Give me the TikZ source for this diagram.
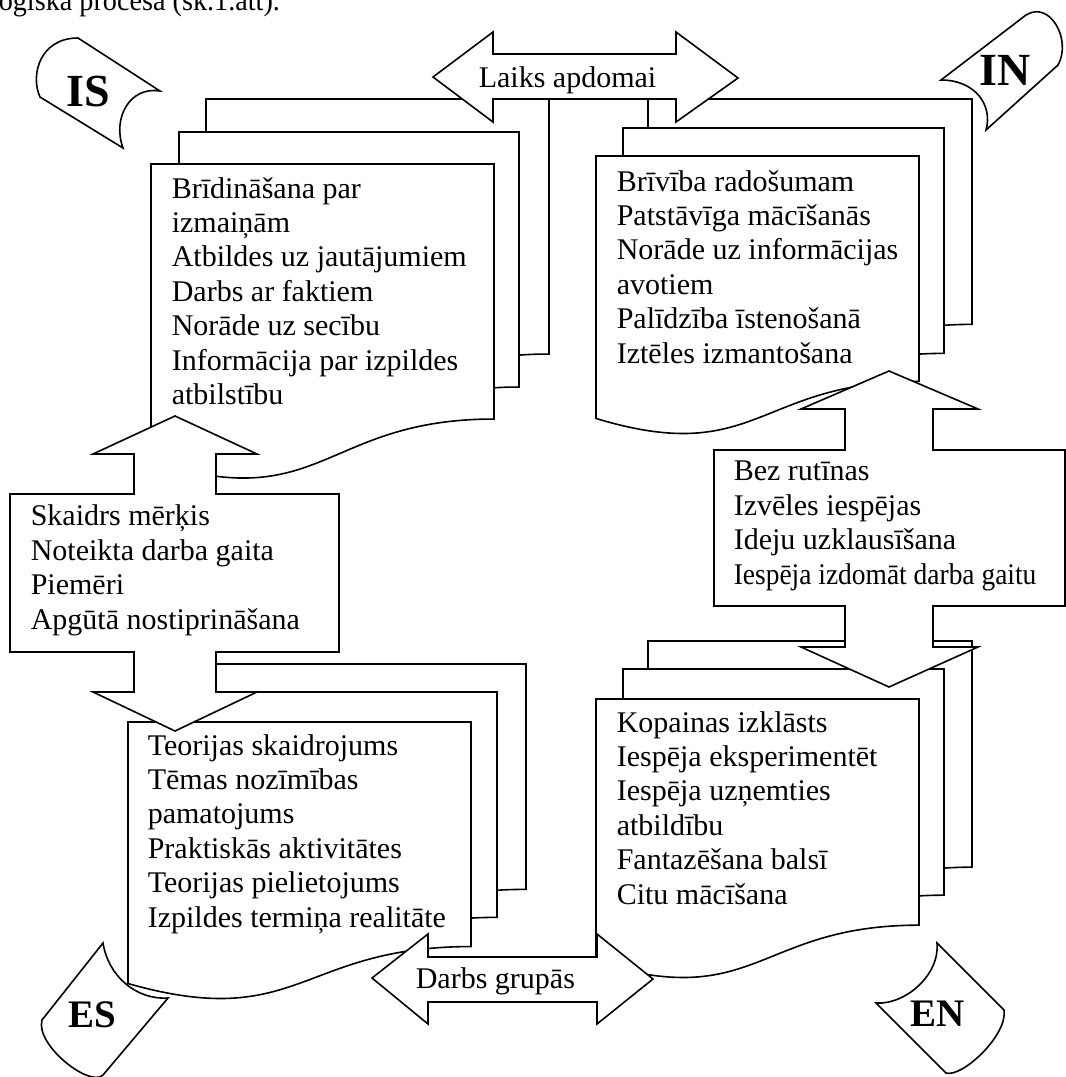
\documentclass[tikz,border=0pt]{standalone}
\usepackage{fontspec}
\setmainfont{Liberation Serif}
\newcommand{\mdoc}[4]{%
  \draw[shp] (#1,#2) -- ({#1+#3},#2) -- ({#1+#3},{#2+0.802*#4})
    .. controls ({#1+0.5*#3},{#2+0.802*#4}) and ({#1+0.5*#3},{#2+1.108*#4}) .. (#1,{#2+0.934*#4}) -- cycle;}
\begin{document}
\begin{tikzpicture}[x=1pt,y=-1pt,line width=1.6pt,line join=miter,
  shp/.style={draw=black,fill=white},
  tagshape/.style={draw=black},
  txt/.style={anchor=base west,inner sep=0pt,align=left,font=\fontsize{30}{34.4}\selectfont},
  bigtag/.style={inner sep=0pt,font=\fontsize{46}{46}\selectfont\bfseries},
  smalltag/.style={inner sep=0pt,font=\fontsize{39}{39}\selectfont\bfseries}]
\useasboundingbox (0,0) rectangle (1066,1077);
\clip (0,0) rectangle (1066,1077);
\fill[white] (0,0) rectangle (1066,1077);

% cropped header line (last-line baselines are used as anchors below)
\node[txt] (head) at (-2,10) {\scalebox{0.94}[1]{ogiska procesa (sk.1.att).}};

% IS group
\mdoc{206}{99}{343}{318}
\mdoc{179}{132}{340}{318}
\mdoc{151}{164}{343}{318}
\node[txt] (istext) at (171,404.4) {Brīdināšana par\\izmaiņām\\Atbildes uz jautājumiem\\Darbs ar faktiem\\Norāde uz secību\\Informācija par izpildes\\atbilstību};

% IN group
\mdoc{648}{99}{324}{281}
\mdoc{623}{128}{321}{281}
\mdoc{596}{156}{323}{281}
\node[txt] (intext) at (616,363) {Brīvība radošumam\\Patstāvīga mācīšanās\\Norāde uz informācijas\\avotiem\\Palīdzība īstenošanā\\Iztēles izmantošana};

% ES group
\mdoc{183}{664}{343}{281}
\mdoc{154}{692}{343}{281}
\mdoc{128}{722}{343}{280}
\node[txt] (estext) at (147,927) {Teorijas skaidrojums\\Tēmas nozīmības\\pamatojums\\Praktiskās aktivitātes\\Teorijas pielietojums\\Izpildes termiņa realitāte};

% EN group
\mdoc{648}{641}{324}{282}
\mdoc{623}{669}{321}{282}
\mdoc{596}{699}{323}{282}
\node[txt] (entext) at (616,904) {Kopainas izklāsts\\Iespēja eksperimentēt\\Iespēja uzņemties\\atbildību\\Fantazēšana balsī\\Citu mācīšana};

% left up-down callout
\draw[shp] (175,416) -- (257,454) -- (216,454) -- (216,494) -- (339,494) -- (339,652) -- (216,652) -- (216,692) -- (257,692) -- (175,731) -- (93,692) -- (134,692) -- (134,652) -- (10,652) -- (10,494) -- (134,494) -- (134,454) -- (93,454) -- cycle;
\node[txt] (skaidrs) at (30,629) {Skaidrs mērķis\\Noteikta darba gaita\\Piemēri\\Apgūtā nostiprināšana};

% right up-down callout
\draw[shp] (889,371) -- (978,409) -- (933,409) -- (933,450) -- (1065,450) -- (1065,606) -- (933,606) -- (933,647) -- (978,647) -- (889,687) -- (801,647) -- (845,647) -- (845,606) -- (714,606) -- (714,450) -- (845,450) -- (845,409) -- (801,409) -- cycle;
\node[txt] (bez) at (733,584) {Bez rutīnas\\Izvēles iespējas\\Ideju uzklausīšana\\\scalebox{0.915}[1]{Iespēja izdomāt darba gaitu}};

% top double arrow
\draw[shp] (433,77) -- (493,32) -- (493,54) -- (676,54) -- (676,32) -- (738,78) -- (676,122) -- (676,99) -- (493,99) -- (493,122) -- cycle;
\node[txt] (laiks) at (478,87) {Laiks apdomai};

% bottom double arrow
\draw[shp] (372,978) -- (428,934) -- (428,957) -- (597,957) -- (597,934) -- (653,979) -- (597,1024) -- (597,1002) -- (428,1002) -- (428,1024) -- cycle;
\node[txt] (darbs) at (415,988) {Darbs grupās};

% corner tags
\draw[tagshape] (78,38) -- (160,91) .. controls (130,86) and (112,118) .. (123,148) -- (40,97) .. controls (30,75) and (40,38) .. (78,38) -- cycle;
\node[bigtag] (IS) at (88,91) {IS};

\draw[tagshape] (941,80) -- (1026,15) .. controls (1050,0) and (1072,40) .. (1058,65) -- (986,130) .. controls (993,105) and (975,80) .. (941,80) -- cycle;
\node[bigtag] (IN) at (1005,70) {IN};

\draw[tagshape] (42,1020) -- (103,943) .. controls (108,975) and (135,1000) .. (168,998) -- (103,1075) .. controls (90,1088) and (35,1045) .. (42,1020) -- cycle;
\node[smalltag] (ES) at (92,1015) {ES};

\draw[tagshape] (937,943) .. controls (940,975) and (905,1005) .. (876,1003) -- (946,1073) .. controls (962,1078) and (1008,1035) .. (1004,1010) -- (937,943) -- cycle;
\node[smalltag] (EN) at (938,1014) {EN};
\end{tikzpicture}
\end{document}
